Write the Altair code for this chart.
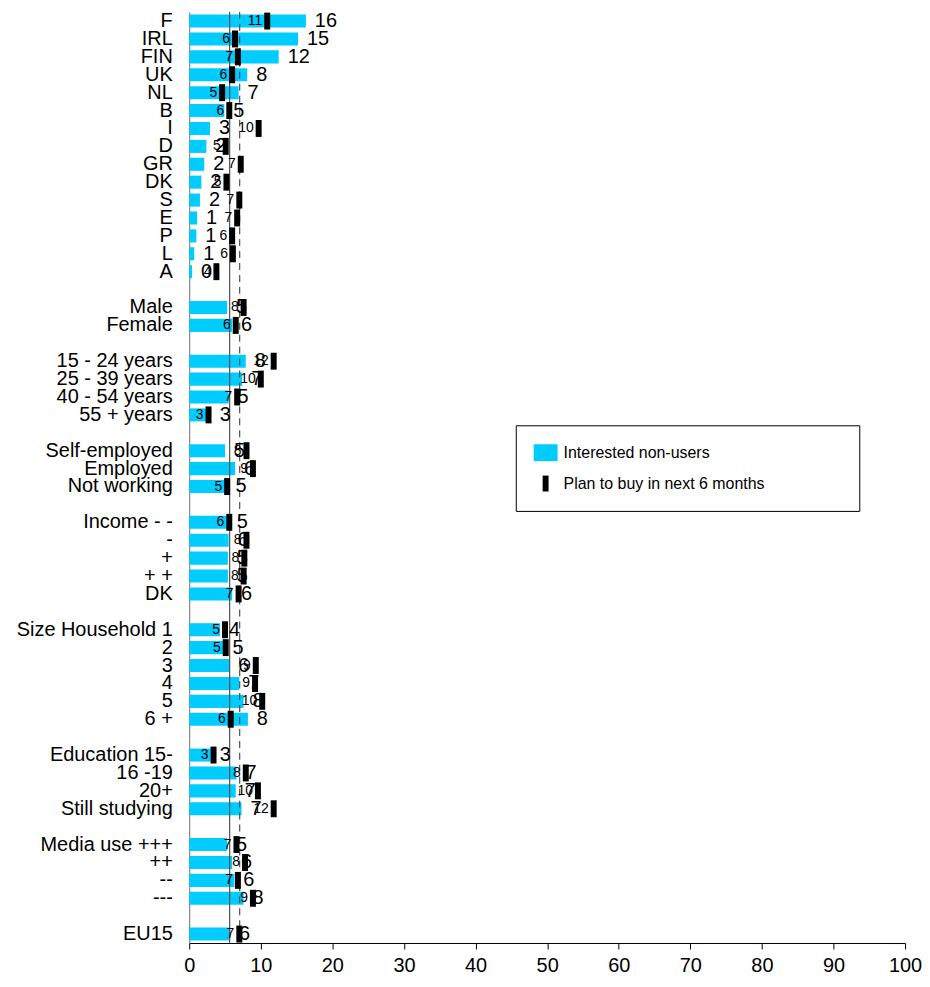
import altair as alt
import pandas as pd

FONT = "Liberation Sans"

categories = ["F", "IRL", "FIN", "UK", "NL", "B", "I", "D", "GR", "DK", "S", "E", "P", "L", "A", "",
              "Male", "Female", "",
              "15 - 24 years", "25 - 39 years", "40 - 54 years", "55 + years", "",
              "Self-employed", "Employed", "Not working", "",
              "Income - -", "-", "+", "+ +", "DK", "",
              "Size Household 1", "2", "3", "4", "5", "6 +", "",
              "Education 15-", "16 -19", "20+", "Still studying", "",
              "Media use +++", "++", "--", "---", "",
              "EU15"]

interested = [16.3, 15.2, 12.5, 8.1, 6.9, 4.9, 2.9, 2.4, 2.1, 1.7, 1.5, 1.1, 1.0, 0.7, 0.4, None,
              5.3, 6.0, None,
              7.9, 7.4, 5.5, 3.0, None,
              5.0, 6.4, 5.2, None,
              5.4, 5.5, 5.4, 5.4, 6.0, None,
              4.3, 4.8, 5.6, 7.0, 7.6, 8.2, None,
              3.0, 6.6, 6.5, 7.3, None,
              5.3, 6.0, 6.3, 7.6, None,
              5.7]

interested_labels = ["16", "15", "12", "8", "7", "5", "3", "2", "2", "2", "2", "1", "1", "1", "0", "",
                     "5", "6", "",
                     "8", "7", "5", "3", "",
                     "5", "6", "5", "",
                     "5", "6", "5", "5", "6", "",
                     "4", "5", "6", "7", "8", "8", "",
                     "3", "7", "7", "7", "",
                     "5", "6", "6", "8", "",
                     "6"]

plan = [10.9, 6.4, 6.8, 6.0, 4.6, 5.6, 9.7, 5.1, 7.2, 5.2, 7.0, 6.7, 6.0, 6.1, 3.8, None,
        7.6, 6.5, None,
        11.8, 10.0, 6.7, 2.7, None,
        8.0, 8.9, 5.3, None,
        5.6, 8.0, 7.7, 7.6, 6.9, None,
        5.0, 5.1, 9.3, 9.2, 10.2, 5.8, None,
        3.4, 7.9, 9.6, 11.8, None,
        6.6, 7.8, 6.8, 8.9, None,
        7.0]

plan_labels = ["11", "6", "7", "6", "5", "6", "10", "5", "7", "5", "7", "7", "6", "6", "4", "",
               "8", "6", "",
               "12", "10", "7", "3", "",
               "8", "9", "5", "",
               "6", "8", "8", "8", "7", "",
               "5", "5", "9", "9", "10", "6", "",
               "3", "8", "10", "12", "",
               "7", "8", "7", "9", "",
               "7"]

# EU15 reference lines: interested non-users (solid), plan to buy (dashed)
ref_solid = [5.65]
ref_dashed = [7.05]

series = ["Interested non-users", "Plan to buy in next 6 months"]
x_ticks = list(range(0, 101, 10))

keys = [f"{c}|{i}" for i, c in enumerate(categories)]
rows = []
for i, k in enumerate(keys):
    if interested[i] is None:
        continue
    rows.append({"key": k, "interested": interested[i], "ilabel": interested_labels[i],
                 "plan": plan[i], "plabel": plan_labels[i],
                 "s1": series[0], "s2": series[1]})
df = pd.DataFrame(rows)

cscale = alt.Scale(domain=series, range=["#00CCFF", "#000000"])

yenc = alt.Y("key:N",
             scale=alt.Scale(domain=keys, paddingInner=0.27, paddingOuter=0.135),
             axis=alt.Axis(labelExpr="split(datum.label, '|')[0]", ticks=False,
                           domainColor="#707070", domainWidth=1, labelFontSize=20,
                           labelFont=FONT, labelColor="#000000", labelPadding=17,
                           labelOverlap=False, labelLimit=400),
             title=None)

xscale = alt.Scale(domain=[0, 100], nice=False)
xaxis = alt.Axis(values=x_ticks, grid=False, labelFontSize=20, labelFont=FONT,
                 labelColor="#000000", domainColor="#000000", tickColor="#000000",
                 tickSize=6, labelPadding=7, labelFlush=False)

# trailing spaces kept by a zero-width char so the legend box gets wider on the right
pad_text = " " * 17 + "\u200b"

legend = alt.Legend(
    title=None, orient="none", legendX=328, legendY=415,
    direction="vertical", padding=19, rowPadding=14, symbolSize=289,
    labelFontSize=16, labelFont=FONT, labelColor="#000000", labelOffset=12,
    labelLimit=600, strokeColor="#000000", fillColor="#FFFFFF",
    symbolStrokeWidth=0, symbolOpacity=1,
    labelExpr=f"datum.label + '{pad_text}'",
    symbolType={"expr": "datum.value === 'Interested non-users' ? 'M-1.12,-1H1.70V1H-1.12Z' : 'M-0.06,-0.94H0.64V0.94H-0.06Z'"},
)

bars = alt.Chart(df).mark_bar().encode(
    x=alt.X("interested:Q", scale=xscale, axis=xaxis, title=None),
    y=yenc,
    color=alt.Color("s1:N", scale=cscale, legend=legend),
)

rule1 = alt.Chart(pd.DataFrame({"x": ref_solid})).mark_rule(color="#505050", strokeWidth=1.2).encode(
    x=alt.X("x:Q", scale=xscale),
)
rule2 = alt.Chart(pd.DataFrame({"x": ref_dashed})).mark_rule(color="#505050", strokeWidth=1.2,
                                                              strokeDash=[7, 5]).encode(
    x=alt.X("x:Q", scale=xscale),
)

ticks = alt.Chart(df).mark_tick(thickness=6, size=17, opacity=1).encode(
    x=alt.X("plan:Q", scale=xscale),
    y=alt.Y("key:N"),
    color=alt.Color("s2:N", scale=cscale, legend=None),
)

big_labels = alt.Chart(df).mark_text(align="left", baseline="middle", dx=9, fontSize=20,
                                     font=FONT, color="#000000").encode(
    x=alt.X("interested:Q", scale=xscale),
    y=alt.Y("key:N"),
    text="ilabel:N",
)

small_labels = alt.Chart(df).mark_text(align="right", baseline="middle", dx=-5, fontSize=14,
                                       font=FONT, color="#000000").encode(
    x=alt.X("plan:Q", scale=xscale),
    y=alt.Y("key:N"),
    text="plabel:N",
)

chart = (
    alt.layer(bars, rule1, rule2, ticks, small_labels, big_labels)
    .properties(width=719, height=935,
                view=alt.ViewBackground(strokeWidth=0),
                padding={"left": 8, "top": 0, "right": 0, "bottom": 0})
    .configure(font=FONT)
    .configure_view(strokeWidth=0, stroke="transparent")
)

chart.save("out.html", embed_options={"renderer": "svg", "actions": False})
